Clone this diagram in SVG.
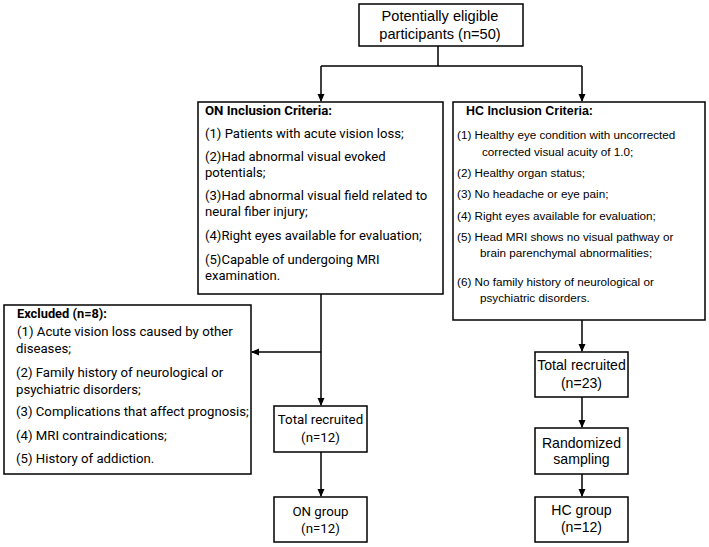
<svg xmlns="http://www.w3.org/2000/svg" width="709" height="547" viewBox="0 0 709 547">
<defs>
<marker id="ah" markerWidth="8" markerHeight="8" refX="7" refY="4" orient="auto" markerUnits="userSpaceOnUse">
<path d="M0,0.5 L8,4 L0,7.5 Z" fill="#000"/>
</marker>
<style>
.box{fill:#fff;stroke:#000;stroke-width:1.5}
.ar{font-family:"Liberation Sans",Arial,sans-serif;font-size:11.7px;fill:#000}
.os{font-family:Roboto,"Open Sans",sans-serif;font-size:13.1px;fill:#000}
.ex{font-size:13.2px}
.nd{font-size:14.1px}
.sm{font-size:13.3px}
.c{text-anchor:middle}
.b{font-weight:bold;font-size:12px}
.ln{fill:none;stroke:#000;stroke-width:1.5}
</style>
</defs>
<rect width="709" height="547" fill="#fff"/>
<g id="connectors">
<path class="ln" d="M438,46 V66 M321,66 H582"/>
<path class="ln" d="M321,66 V101" marker-end="url(#ah)"/>
<path class="ln" d="M582,66 V101" marker-end="url(#ah)"/>
<path class="ln" d="M321,294 V405" marker-end="url(#ah)"/>
<path class="ln" d="M321,352 H252" marker-end="url(#ah)"/>
<path class="ln" d="M321,452 V496" marker-end="url(#ah)"/>
<path class="ln" d="M582,320 V351" marker-end="url(#ah)"/>
<path class="ln" d="M582,397 V427" marker-end="url(#ah)"/>
<path class="ln" d="M582,474 V496" marker-end="url(#ah)"/>
</g>
<g id="start">
<rect class="box" x="359" y="4" width="164" height="42"/>
<text class="ar c nd" x="440" y="21" style="font-size:14.6px">Potentially eligible</text>
<text class="ar c nd" x="440" y="39" style="font-size:14.6px">participants (n=50)</text>
</g>
<g id="on-criteria">
<rect class="box" x="198" y="102" width="245" height="192"/>
<text class="os b" x="205" y="115" textLength="127" lengthAdjust="spacingAndGlyphs">ON Inclusion Criteria:</text>
<text class="os" x="205" y="138">(1) Patients with acute vision loss;</text>
<text class="os" x="205" y="161">(2)Had abnormal visual evoked</text>
<text class="os" x="205" y="177">potentials;</text>
<text class="os" x="205" y="200">(3)Had abnormal visual field related to</text>
<text class="os" x="205" y="216">neural fiber injury;</text>
<text class="os" x="205" y="240">(4)Right eyes available for evaluation;</text>
<text class="os" x="205" y="264">(5)Capable of undergoing MRI</text>
<text class="os" x="205" y="280">examination.</text>
</g>
<g id="hc-criteria">
<rect class="box" x="453" y="102" width="252" height="218"/>
<text class="ar b" x="466" y="115" textLength="127" lengthAdjust="spacingAndGlyphs">HC Inclusion Criteria:</text>
<text class="ar" x="457" y="139">(1) Healthy eye condition with uncorrected</text>
<text class="ar" x="482" y="156">corrected visual acuity of 1.0;</text>
<text class="ar" x="457" y="177">(2) Healthy organ status;</text>
<text class="ar" x="457" y="198">(3) No headache or eye pain;</text>
<text class="ar" x="457" y="220">(4) Right eyes available for evaluation;</text>
<text class="ar" x="457" y="241">(5) Head MRI shows no visual pathway or</text>
<text class="ar" x="480" y="257">brain parenchymal abnormalities;</text>
<text class="ar" x="457" y="286">(6) No family history of neurological or</text>
<text class="ar" x="480" y="302">psychiatric disorders.</text>
</g>
<g id="excluded">
<rect class="box" x="4" y="305" width="247" height="169"/>
<text class="os b" x="17" y="318" textLength="90" lengthAdjust="spacingAndGlyphs">Excluded (n=8):</text>
<text class="os ex" x="17" y="336">(1) Acute vision loss caused by other</text>
<text class="os ex" x="16" y="353">diseases;</text>
<text class="os ex" x="16" y="377">(2) Family history of neurological or</text>
<text class="os ex" x="16" y="394">psychiatric disorders;</text>
<text class="os ex" x="16" y="416">(3) Complications that affect prognosis;</text>
<text class="os ex" x="16" y="440">(4) MRI contraindications;</text>
<text class="os ex" x="16" y="463">(5) History of addiction.</text>
</g>
<g id="on-total">
<rect class="box" x="274" y="406" width="93" height="46"/>
<text class="os c sm" x="320.5" y="424">Total recruited</text>
<text class="os c sm" x="320.5" y="442">(n=12)</text>
</g>
<g id="on-group">
<rect class="box" x="274" y="497" width="93" height="45"/>
<text class="os c sm" x="320.5" y="516">ON group</text>
<text class="os c sm" x="320.5" y="533">(n=12)</text>
</g>
<g id="hc-total">
<rect class="box" x="535" y="352" width="93" height="45"/>
<text class="ar c nd" x="581.5" y="370">Total recruited</text>
<text class="ar c nd" x="581.5" y="388">(n=23)</text>
</g>
<g id="hc-sampling">
<rect class="box" x="535" y="428" width="93" height="46"/>
<text class="ar c nd" x="581.5" y="448">Randomized</text>
<text class="ar c nd" x="581.5" y="464">sampling</text>
</g>
<g id="hc-group">
<rect class="box" x="535" y="497" width="93" height="45"/>
<text class="ar c nd" x="581.5" y="515">HC group</text>
<text class="ar c nd" x="581.5" y="532">(n=12)</text>
</g>
</svg>
